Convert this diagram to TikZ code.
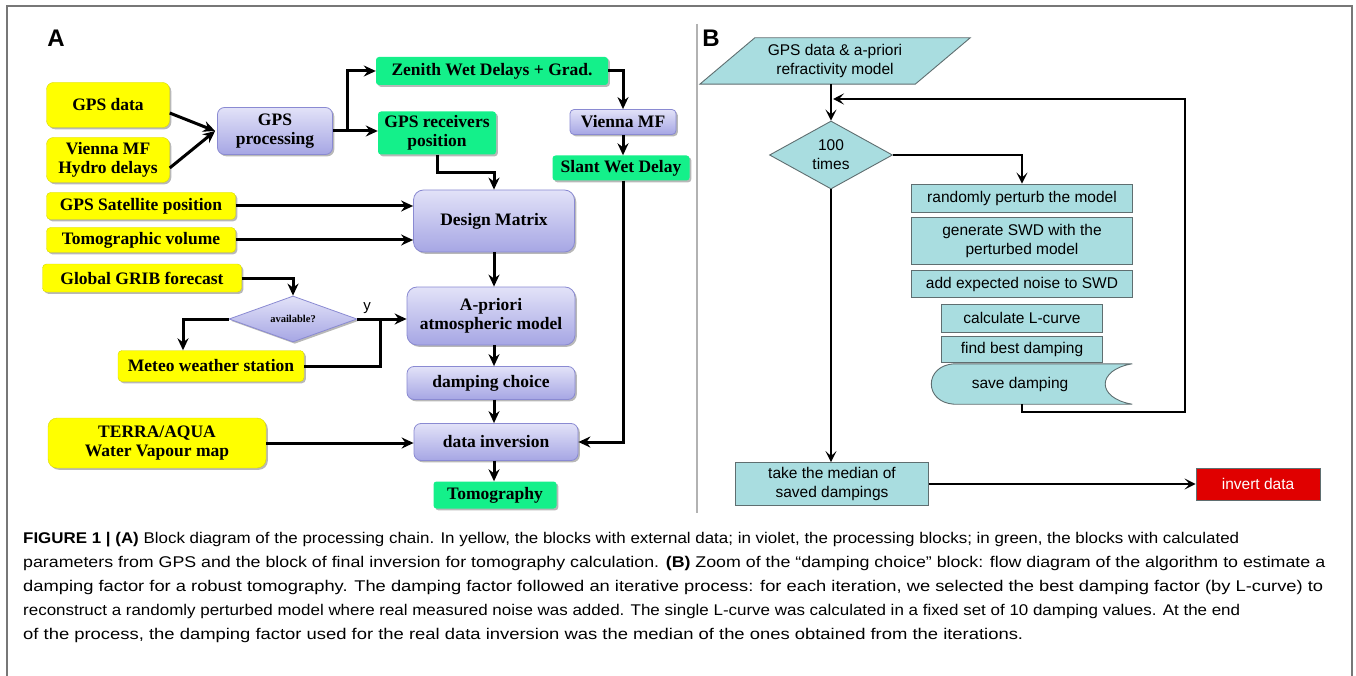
\documentclass[tikz,border=0pt]{standalone}
\usepackage{fontspec}
\setmainfont{Liberation Serif}
\newfontfamily\sansB{Liberation Sans}
\newfontfamily\capfont{Liberation Sans}
\usetikzlibrary{arrows.meta,shadows,shapes.geometric}
\pgfdeclarelayer{back}\pgfdeclarelayer{bg}\pgfsetlayers{back,bg,main}
\definecolor{yel}{HTML}{FFFF00}
\definecolor{grn}{HTML}{14F08A}
\definecolor{vtop}{HTML}{E2E2F8}
\definecolor{vbot}{HTML}{A6A6E4}
\definecolor{vbord}{HTML}{8A8AD2}
\definecolor{cyanB}{HTML}{A9DDE0}
\definecolor{bordB}{HTML}{5F6E70}
\definecolor{redB}{HTML}{E00000}
\definecolor{framec}{HTML}{777777}
\newsavebox\capbox
\newcommand\capline[2]{\sbox\capbox{\capfont\fontsize{15.5}{18}\selectfont #2}\resizebox{#1}{\ht\capbox}{\usebox\capbox}}
\tikzset{
  shad/.style={drop shadow={shadow xshift=1.8pt,shadow yshift=-1.8pt,opacity=0.28,fill=black}},
  fA/.style={font=\fontsize{17.5}{19}\selectfont\bfseries, align=center, inner sep=0pt},
  ybox/.style={fA, fill=yel, draw=yel!85!black, rounded corners=7pt, shad},
  vbox/.style={fA, top color=vtop, bottom color=vbot, draw=vbord, line width=0.8pt, rounded corners=7pt, shad},
  gbox/.style={fA, fill=grn, rounded corners=3pt, shad},
  arrA/.style={line width=3pt, -{Stealth[length=12pt,width=11pt,inset=4pt]}},
  lineA/.style={line width=3pt},
  fB/.style={font=\sansB\fontsize{15.5}{19}\selectfont, align=center, inner sep=0pt},
  cbox/.style={fB, fill=cyanB, draw=bordB, line width=0.9pt},
  arrB/.style={line width=2.5pt, -{Stealth[length=11pt,width=11pt,inset=5pt]}},
  wh/.style={minimum width=#1pt},
  ht/.style={minimum height=#1pt},
}
\begin{document}
\begin{tikzpicture}[x=1pt,y=-1pt]
\useasboundingbox (0,0) rectangle (1356,676);
\begin{pgfonlayer}{back}
\fill[white] (0,0) rectangle (1356,676);
\end{pgfonlayer}
% frame
\draw[framec, line width=1.6pt] (7,690) -- (7,6) -- (1352,6) -- (1352,690);
\draw[black!30, line width=1.2pt] (697,24) -- (697,513);
% panel labels
\node[font=\sansB\bfseries\fontsize{24}{24}\selectfont] (labA) at (56,38) {A};
\node[font=\sansB\bfseries\fontsize{24}{24}\selectfont] (labB) at (711,38) {B};

% ---------- Panel A ----------
\node[ybox, wh=123, ht=45] (gd) at (108,105) {GPS data};
\node[ybox, wh=123, ht=45] (vh) at (108,160) {Vienna MF\\Hydro delays};
\node[vbox, wh=115, ht=47] (gp) at (275,131) {GPS\\processing};
\node[gbox, wh=232, ht=28] (zw) at (492,71) {Zenith Wet Delays + Grad.};
\node[gbox, wh=118, ht=43] (gr) at (437,133) {GPS receivers\\position};
\node[vbox, wh=106, ht=25, rounded corners=4pt] (vm) at (623,122) {Vienna MF};
\node[gbox, wh=137, ht=25] (sw) at (621,168) {Slant Wet Delay};
\node[ybox, wh=189, ht=27, rounded corners=4pt] (gs) at (141,206) {GPS Satellite position};
\node[ybox, wh=189, ht=25, rounded corners=4pt] (tv) at (141,240) {Tomographic volume};
\node[vbox, wh=161, ht=62, rounded corners=10pt] (dm) at (494,221) {Design Matrix};
\node[ybox, wh=199, ht=28, rounded corners=4pt] (gg) at (142,278) {Global GRIB forecast};
\node[diamond, top color=vtop, bottom color=vbot, draw=vbord, line width=0.8pt, shad, aspect=2.8, minimum width=128pt, minimum height=46pt, inner sep=0pt, font=\fontsize{10.5}{12}\selectfont\bfseries] (av) at (293,319) {available?};
\node[ybox, wh=186, ht=31, rounded corners=4pt] (mw) at (211,366) {Meteo weather station};
\node[vbox, wh=168, ht=58, rounded corners=10pt] (ap) at (491,316) {A-priori\\atmospheric model};
\node[vbox, wh=168, ht=33] (dc) at (491,383) {damping choice};
\node[ybox, wh=218, ht=50, rounded corners=9pt] (ta) at (157,443) {TERRA/AQUA\\Water Vapour map};
\node[vbox, wh=164, ht=37] (di) at (496,442) {data inversion};
\node[gbox, wh=123, ht=27] (to) at (495,495) {Tomography};

\draw[arrA] ([yshift=-8pt]gd.east) -- ([xshift=-2pt]gp.west);
\draw[arrA] ([yshift=-8pt]vh.east) -- ([xshift=-2pt]gp.west);
\draw[lineA] (gp.east) -- ++(15,0) coordinate (j1);
\draw[arrA] (j1) |- (zw.west);
\draw[arrA] (j1) -- (j1 -| gr.west);
\draw[arrA] (zw.east) -| (vm.north);
\draw[arrA] (vm.south) -- (vm.south |- sw.north);
\draw[arrA] ([xshift=2pt]sw.south) |- (di.east);
\draw[arrA] (gr.south) -- ++(0,18) -| (dm.north);
\draw[arrA] (gs.east) -- (gs.east -| dm.west);
\draw[arrA] (tv.east) -- (tv.east -| dm.west);
\draw[arrA] (dm.south) -- (dm.south |- ap.north);
\draw[arrA] (gg.east) -| (av.north);
\draw[arrA] (av.west) -| ([xshift=-28pt]mw.north);
\draw[arrA] (av.east) -- (av.east -| ap.west) node[pos=0.2, above, font=\sansB\fontsize{15}{15}\selectfont, inner sep=4pt] (ylab) {y};
\coordinate (jy) at (380,319);
\draw[lineA] (mw.east) -| (jy);
\draw[arrA] ([xshift=3pt]ap.south) -- ([xshift=3pt]dc.north);
\draw[arrA] ([xshift=3pt]dc.south) -- ([xshift=3pt]dc.south |- di.north);
\draw[arrA] (ta.east) -- (ta.east -| di.west);
\draw[arrA] ([xshift=-2pt]di.south) -- ([xshift=-2pt]di.south |- to.north);

% ---------- Panel B ----------
\node[fB, minimum width=270pt, minimum height=46pt] (gi) at (835,61) {GPS data \& a-priori\\refractivity model};
\begin{pgfonlayer}{bg}
\draw[fill=cyanB, draw=bordB, line width=0.9pt] ([xshift=55pt]gi.north west) -- (gi.north east) -- ([xshift=-55pt]gi.south east) -- (gi.south west) -- cycle;
\end{pgfonlayer}
\node[diamond, fill=cyanB, draw=bordB, line width=0.9pt, aspect=1.8, minimum width=123pt, minimum height=68pt, fB] (d100) at (831,155) {100\\times};
\node[cbox, wh=221, ht=28] (rp) at (1022,198) {randomly perturb the model};
\node[cbox, wh=221, ht=47] (gsw) at (1022,241) {generate SWD with the\\perturbed model};
\node[cbox, wh=221, ht=27] (an) at (1022,284) {add expected noise to SWD};
\node[cbox, wh=161, ht=28] (cl) at (1022,318) {calculate L-curve};
\node[cbox, wh=161, ht=26] (fb) at (1022,349) {find best damping};
\node[fB, minimum width=200pt, minimum height=40pt] (sd) at (1032,384) {\hspace*{-24pt}save damping};
\begin{pgfonlayer}{bg}
\draw[fill=cyanB, draw=bordB, line width=0.9pt] ([xshift=22pt]sd.north west) -- (sd.north east)
  .. controls ([xshift=-36pt,yshift=-6pt]sd.north east) and ([xshift=-36pt,yshift=6pt]sd.south east) .. (sd.south east)
  -- ([xshift=22pt]sd.south west)
  .. controls ([xshift=-8pt,yshift=2pt]sd.south west) and ([xshift=-8pt,yshift=-2pt]sd.north west) .. ([xshift=22pt]sd.north west) -- cycle;
\end{pgfonlayer}
\node[cbox, wh=193, ht=43] (tm) at (832,484) {take the median of\\saved dampings};
\node[fB, fill=redB, draw=bordB, line width=0.9pt, text=white, minimum width=124pt, minimum height=32pt] (inv) at (1258,484) {invert data};

\coordinate (lb) at (1185,412);
\coordinate (lt) at (1185,99);
\draw[arrB] ([xshift=-10pt]sd.south) |- (lb) -- (lt) -- ([xshift=2pt]lt -| d100.north);
\draw[arrB] (gi.south -| d100.north) -- (d100.north);
\draw[arrB] (d100.east) -| (rp.north);
\draw[arrB] (d100.south) -- (d100.south |- tm.north);
\draw[arrB] (tm.east) -- (tm.east -| inv.west);

% ---------- Caption ----------
\node[anchor=base west, inner sep=0pt] (c1) at (23,543) {\capline{1216pt}{\textbf{FIGURE 1 | (A)} Block diagram of the processing chain. In yellow, the blocks with external data; in violet, the processing blocks; in green, the blocks with calculated}};
\node[anchor=base west, inner sep=0pt] (c2) at (23,567) {\capline{1302pt}{parameters from GPS and the block of final inversion for tomography calculation. \textbf{(B)} Zoom of the “damping choice” block: flow diagram of the algorithm to estimate a}};
\node[anchor=base west, inner sep=0pt] (c3) at (23,591) {\capline{1300pt}{damping factor for a robust tomography. The damping factor followed an iterative process: for each iteration, we selected the best damping factor (by L-curve) to}};
\node[anchor=base west, inner sep=0pt] (c4) at (23,615) {\capline{1217pt}{reconstruct a randomly perturbed model where real measured noise was added. The single L-curve was calculated in a fixed set of 10 damping values. At the end}};
\node[anchor=base west, inner sep=0pt] (c5) at (23,639) {\capline{1000pt}{of the process, the damping factor used for the real data inversion was the median of the ones obtained from the iterations.}};
\end{tikzpicture}
\end{document}
